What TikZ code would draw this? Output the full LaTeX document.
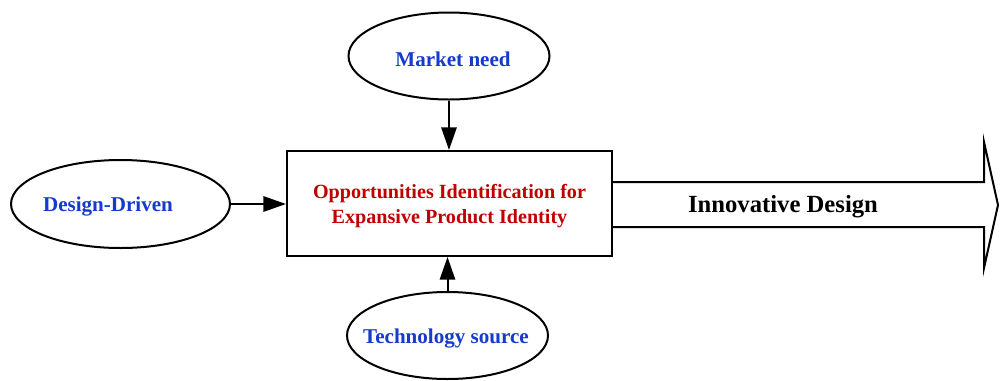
\documentclass[tikz,border=0pt]{standalone}
\usepackage{fontspec}
\setmainfont{Liberation Serif}
\usetikzlibrary{shapes.geometric,arrows.meta}
\definecolor{lblblue}{RGB}{22,58,204}
\definecolor{lblred}{RGB}{192,0,0}
\tikzset{
  oval/.style={draw=black, line width=1.5pt, ellipse, inner sep=0pt, fill=white},
  ovaltext/.style={inner sep=0pt, font=\fontsize{15.8}{19}\selectfont\bfseries, text=lblblue},
  mainbox/.style={draw=black, line width=1.5pt, rectangle, inner sep=0pt,
    minimum width=243.75pt, minimum height=78.75pt},
  boxtext/.style={inner sep=0pt, align=center,
    font=\fontsize{15.1}{18.75}\selectfont\bfseries, text=lblred},
  feed/.style={line width=1.5pt, -{Triangle[length=17pt,width=11.5pt]}},
  bigarrow/.style={draw=black, line width=1.5pt, line join=miter},
}
\begin{document}
\begin{tikzpicture}[x=0.75pt,y=-0.75pt]
\useasboundingbox (0,0) rectangle (1000,380);
\node[mainbox] (box) at (449.5,203.5) {};
\node[boxtext] (boxlbl) at (449.5,206) {Opportunities Identification for\\Expansive Product Identity};
\node[oval, minimum width=150.75pt, minimum height=65.25pt] (market) at (449,56) {};
\node[ovaltext] (marketlbl) at (453,59) {Market need};
\node[oval, minimum width=164.25pt, minimum height=66pt] (design) at (120.5,204) {};
\node[ovaltext] (designlbl) at (108,207) {Design-Driven};
\node[oval, minimum width=150.75pt, minimum height=65.25pt] (tech) at (447.5,335.5) {};
\node[ovaltext] (techlbl) at (446,339) {Technology source};
\coordinate (a1) at (box.east |- 0,182);
\coordinate (a2) at (984,182);
\coordinate (a3) at (984,142);
\coordinate (tip) at (998,205);
\coordinate (a4) at (984,268);
\coordinate (a5) at (984,227);
\coordinate (a6) at (box.east |- 0,227);
\draw[bigarrow] (a1) -- (a2) -- (a3) -- (tip) -- (a4) -- (a5) -- (a6);
\node[font=\fontsize{18.5}{22}\selectfont\bfseries, text=black] (inno) at (783,207) {Innovative Design};
\draw[feed] (market.south) -- (market.south |- box.north);
\draw[feed] (design.east) -- (design.east -| box.west);
\draw[feed] (tech.north) -- (tech.north |- box.south);
\end{tikzpicture}
\end{document}
